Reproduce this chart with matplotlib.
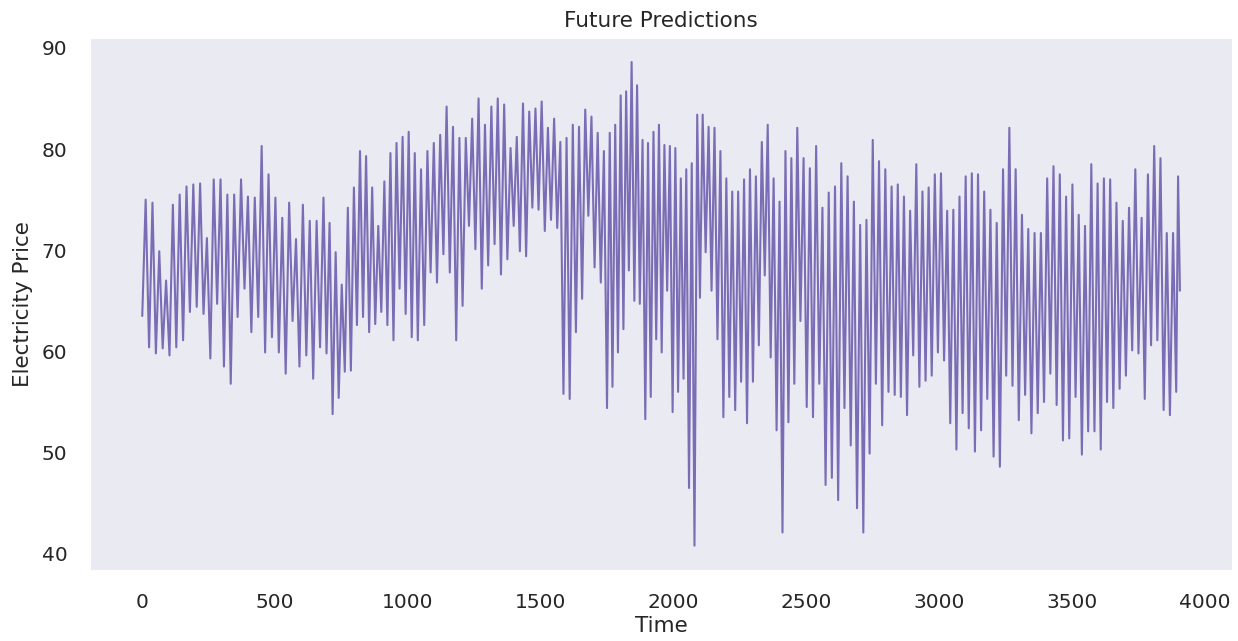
import numpy as np
import matplotlib.pyplot as plt
import seaborn as sns

# peaks / troughs of the predicted price left to right
prices = [
    # 0 - 333
    63.5, 75.0, 60.4, 74.7, 59.8, 69.9, 60.3, 67.0, 59.6, 74.5, 60.4, 75.5, 61.1, 76.3,
    63.9, 76.5, 64.4, 76.6, 63.7, 71.2, 59.3, 77.0, 64.7, 77.0, 58.5, 75.5, 56.8,
    # 333 - 682
    75.5, 63.4, 77.0, 66.2, 75.3, 61.9, 75.2, 63.4, 80.3, 59.9, 77.5, 61.4, 75.2, 59.9,
    73.2, 57.8, 74.7, 63.0, 71.1, 58.5, 74.5, 59.6, 72.9, 57.3, 72.9, 60.4, 75.2,
    # 682 - 1037
    59.8, 72.7, 53.8, 69.8, 55.4, 66.6, 58.0, 74.2, 58.1, 76.2, 62.6, 79.8, 63.4, 79.3,
    61.9, 76.2, 62.7, 72.4, 63.9, 76.8, 62.6, 79.6, 61.1, 80.6, 66.2, 81.2, 63.7, 81.7,
    61.4, 79.6, 61.1,
    # 1037 - 1386
    78.0, 62.6, 79.8, 67.8, 80.6, 66.8, 81.4, 69.6, 84.2, 67.8, 82.2, 61.1, 81.1, 64.5,
    81.1, 72.4, 83.0, 70.1, 85.0, 66.2, 82.4, 68.5, 84.2, 70.6, 85.0, 67.6, 84.4, 69.1,
    80.1,
    # 1386 - 1749
    72.4, 81.2, 69.9, 84.5, 69.4, 83.7, 74.2, 84.0, 74.0, 84.7, 71.9, 82.1, 73.0, 83.0,
    72.2, 80.7, 55.8, 81.1, 55.3, 82.4, 61.9, 82.2, 65.2, 83.9, 73.4, 83.2, 68.3, 81.6,
    66.8, 79.8, 54.4,
    # 1749 - 2109
    81.6, 56.5, 82.4, 59.9, 85.3, 62.2, 85.7, 68.0, 88.6, 65.0, 86.3, 64.7, 80.9, 53.3,
    80.6, 55.5, 81.7, 61.2, 82.4, 59.9, 80.4, 66.0, 80.3, 54.0, 80.1, 56.0, 77.1, 57.3,
    78.0, 46.5, 78.6, 40.8, 83.4, 65.3, 83.4,
    # 2109 - 2465
    69.8, 82.2, 66.0, 82.1, 61.2, 79.8, 53.5, 77.1, 55.5, 75.8, 54.2, 75.8, 57.0, 77.0,
    52.9, 78.0, 57.0, 77.3, 60.6, 80.7, 67.5, 82.4, 59.4, 77.1, 52.2, 74.8, 42.1, 79.8,
    53.0, 79.1, 56.8, 82.1,
    # 2465 - 2820
    63.0, 79.1, 54.5, 78.1, 53.5, 80.3, 56.8, 74.2, 46.8, 75.7, 47.5, 76.3, 45.3, 78.6,
    54.4, 77.3, 50.7, 74.8, 44.5, 72.5, 42.1, 73.0, 49.9, 80.9, 56.8, 78.8, 52.7, 78.0,
    56.0, 76.3,
    # 2820 - 3180
    55.7, 76.5, 55.5, 75.3, 53.7, 73.9, 59.6, 78.5, 56.5, 75.8, 57.1, 76.2, 57.6, 77.5,
    59.9, 77.6, 59.1, 73.9, 52.9, 74.0, 50.3, 75.3, 53.9, 77.3, 52.4, 77.6, 50.1, 77.5,
    52.2, 75.8, 55.3,
    # 3180 - 3536
    74.0, 49.6, 72.7, 48.6, 78.0, 57.6, 82.1, 56.6, 78.0, 53.2, 73.5, 55.7, 72.1, 51.9,
    71.7, 53.9, 71.7, 55.0, 77.1, 57.8, 78.3, 54.7, 77.5, 51.2, 75.3, 51.4, 76.5, 55.5,
    73.5, 49.8,
    # 3536 - 3891
    72.4, 52.1, 78.5, 52.1, 76.6, 50.3, 77.1, 55.0, 77.0, 54.4, 74.7, 56.3, 72.9, 57.6,
    74.2, 60.1, 78.0, 59.8, 73.2, 55.3, 77.5, 60.6, 80.3, 61.1, 79.1, 54.2, 71.7, 53.7,
    71.7, 56.0,
    # 3891 - end
    77.3, 66.0,
]
seg_len = [27, 27, 31, 29, 31, 35, 32, 30, 31, 30, 30, 2]
seg_end = [333, 682, 1037, 1386, 1749, 2109, 2465, 2820, 3180, 3536, 3891, 3905]

# time stamp of each reading, spread evenly inside its segment
times = []
start = 0
for k, (n, end) in enumerate(zip(seg_len, seg_end)):
    if k == 0:
        times.extend(np.linspace(start, end, n))
    else:
        times.extend(np.linspace(start, end, n + 1)[1:])
    start = end
times = np.array(times)
prices = np.array(prices)

sns.set_style("dark")
plt.rcParams['font.family'] = ['DejaVu Sans']

fig = plt.figure(figsize=(12.38, 6.41), dpi=100)
ax = fig.add_axes([0.073, 0.111, 0.922, 0.830])
ax.plot(times, prices, color="#7b6db5", linewidth=1.5)

ax.set_title("Future Predictions", fontsize=15.5, pad=8)
ax.set_xlabel("Time", fontsize=15.5, labelpad=3)
ax.set_ylabel("Electricity Price", fontsize=15.5, labelpad=6)
ax.tick_params(labelsize=14.5, pad=13)
ax.set_xticks(np.arange(0, 4001, 500))
ax.set_yticks(np.arange(40, 91, 10))

fig.savefig("out.png", dpi=100)
